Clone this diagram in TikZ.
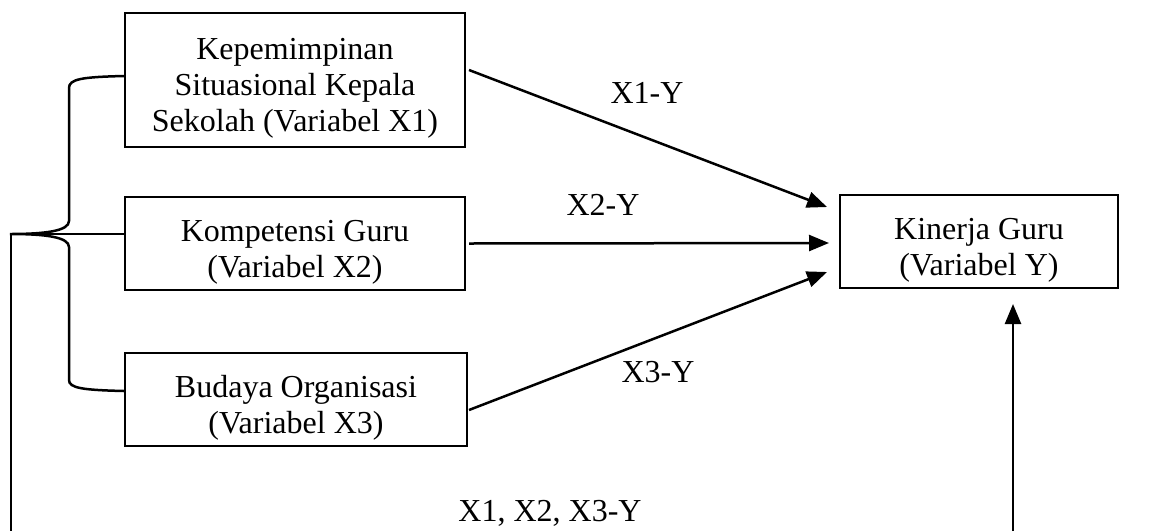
\documentclass[tikz,border=0pt]{standalone}
\usepackage{fontspec}
\setmainfont{Liberation Serif}
\usetikzlibrary{arrows.meta,calc}
\newcommand\topstrut{\rule{0pt}{38pt}}
\begin{document}
\begin{tikzpicture}[x=1pt,y=-1pt,
  box/.style={draw,line width=2pt,inner sep=0pt,align=center,
    font=\fontsize{32}{36}\selectfont},
  lbl/.style={inner sep=0pt,font=\fontsize{32}{36}\selectfont},
  conn/.style={line width=2.5pt,-{Triangle[length=20pt,width=16pt]}},
  brace/.style={line width=2.5pt}]
\useasboundingbox (0,0) rectangle (1170,531);
\node[box,minimum width=340pt,minimum height=134pt] (x1) at (295,80)
  {\topstrut Kepemimpinan\\Situasional Kepala\\Sekolah (Variabel X1)};
\node[box,minimum width=340pt,minimum height=93pt] (x2) at (295,243.5)
  {\topstrut Kompetensi Guru\\(Variabel X2)};
\node[box,minimum width=342pt,minimum height=93pt] (x3) at (296,399.5)
  {\topstrut Budaya Organisasi\\(Variabel X3)};
\node[box,minimum width=278pt,minimum height=93pt] (y) at (979,241.5)
  {\topstrut Kinerja Guru\\(Variabel Y)};
\node[lbl] (l1) at (647,93) {X1-Y};
\node[lbl] (l2) at (603,205) {X2-Y};
\node[lbl] (l3) at (658,372) {X3-Y};
\node[lbl] (l4) at (550,513) {X1, X2, X3-Y};
% arrows to Y
\draw[conn] ($(x1.east)+(3,-10)$) -- ($(y.west)+(-12,-34.5)$);
\draw[conn] ($(x2.east)+(3,0)$) -- ($(y.west)+(-10,1.5)$);
\draw[conn] ($(x3.east)+(1,10.5)$) -- ($(y.west)+(-12,30.5)$);
% brace
\coordinate (tip) at (10,234);
\coordinate (bl) at (11,531);
\coordinate (br) at (1013,531);
\draw[brace] ($(x1.west)+(0,-4)$) .. controls (82,77) and (69,79) .. (69,88)
  -- (69,221) .. controls (69,231) and (45,234) .. (tip)
  .. controls (45,234) and (69,237) .. (69,247)
  -- (69,380) .. controls (69,388) and (82,390) .. ($(x3.west)+(0,-8.5)$);
\draw[brace] (tip) -- ($(x2.west)+(0,-9.5)$);
\draw[brace] (tip -| bl) -- (bl);
\draw[conn] (br) -- ($(y.south)+(34,15)$);
\end{tikzpicture}
\end{document}
